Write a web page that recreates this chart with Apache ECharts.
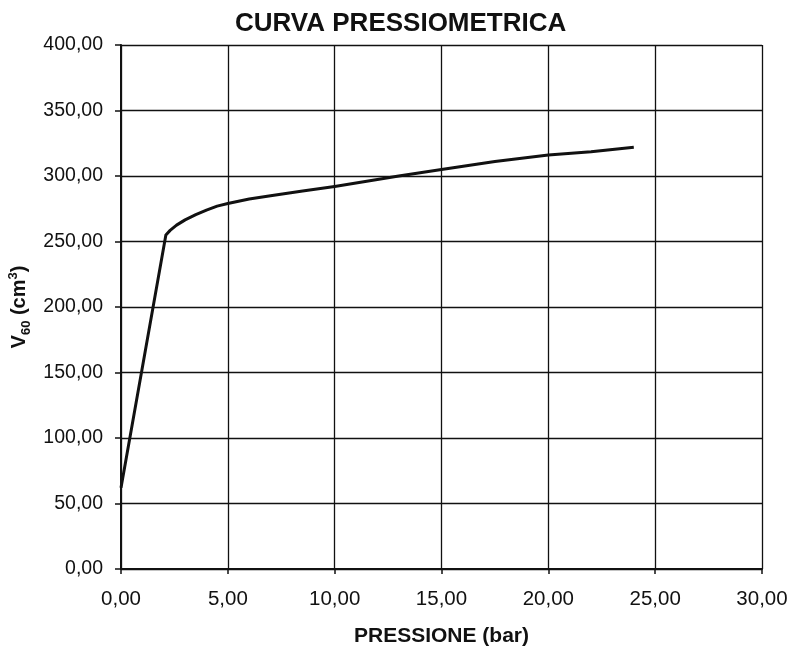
<!DOCTYPE html>
<html>
<head>
<meta charset="utf-8">
<script src="https://cdn.jsdelivr.net/npm/echarts@6/dist/echarts.min.js"></script>
<style>html,body{margin:0;padding:0;background:#fff;}#c{width:789px;height:649px;}</style>
</head>
<body>
<div id="c"></div>
<script>
const chartTitle = 'CURVA PRESSIOMETRICA';
const xAxisTitle = 'PRESSIONE (bar)';
const pressure = [0, 2.1, 2.3, 2.6, 3.0, 3.5, 4.0, 4.5, 5.0, 6.0, 7.0, 8.5, 10.0, 13.0, 15.0, 17.5, 20.0, 22.0, 24.0];
const volume   = [62, 255, 258.5, 262.5, 266.5, 270.5, 274, 277, 279, 282.5, 285, 288.5, 292, 300, 305, 311, 316, 318.5, 322];
const xTicks = [0, 5, 10, 15, 20, 25, 30];
const yTicks = [0, 50, 100, 150, 200, 250, 300, 350, 400];

const fmt = v => v.toFixed(2).replace('.', ',');
const font = 'Liberation Sans, Arial, sans-serif';
const ink = '#111';

const chart = echarts.init(document.getElementById('c'), null, {renderer: 'canvas'});
chart.setOption({
  backgroundColor: '#fff',
  animation: false,
  title: {
    text: chartTitle, left: 230, top: 6,
    textStyle: {fontFamily: font, fontSize: 26, fontWeight: 'bold', color: ink}
  },
  grid: {left: 121, right: 27, top: 45, bottom: 80, containLabel: false, outerBoundsMode: 'none'},
  xAxis: {
    type: 'value', min: xTicks[0], max: xTicks[xTicks.length - 1], interval: 5,
    name: xAxisTitle, nameLocation: 'middle', nameGap: 57,
    nameTextStyle: {fontFamily: font, fontSize: 21, fontWeight: 'bold', color: ink},
    axisLine: {show: true, onZero: false, lineStyle: {color: ink, width: 2}},
    axisTick: {show: true, length: 5, lineStyle: {color: ink, width: 1.5}},
    axisLabel: {fontFamily: font, fontSize: 20.5, color: ink, margin: 20, formatter: fmt},
    splitLine: {show: true, lineStyle: {color: ink, width: 1.3}}
  },
  yAxis: {
    type: 'value', min: yTicks[0], max: yTicks[yTicks.length - 1], interval: 50,
    name: '{v|V}{s|60}{v| (cm}{p|3}{v|)}', nameLocation: 'middle', nameGap: 88,
    nameTextStyle: {
      fontFamily: font, fontSize: 20, fontWeight: 'bold', color: ink,
      rich: {
        v: {fontFamily: font, fontSize: 20, fontWeight: 'bold', color: ink, lineHeight: 26, verticalAlign: 'middle'},
        s: {fontFamily: font, fontSize: 13, fontWeight: 'bold', color: ink, lineHeight: 13, verticalAlign: 'bottom'},
        p: {fontFamily: font, fontSize: 13, fontWeight: 'bold', color: ink, lineHeight: 13, verticalAlign: 'top'}
      }
    },
    axisLine: {show: true, onZero: false, lineStyle: {color: ink, width: 2}},
    axisTick: {show: true, length: 6, lineStyle: {color: ink, width: 1.5}},
    axisLabel: {fontFamily: font, fontSize: 19.5, color: ink, margin: 18, formatter: fmt},
    splitLine: {show: true, lineStyle: {color: ink, width: 1.3}}
  },
  series: [{
    type: 'line',
    data: pressure.map((p, i) => [p, volume[i]]),
    showSymbol: false,
    smooth: false,
    lineStyle: {color: ink, width: 3, join: 'round'},
    z: 5
  }]
});
</script>
</body>
</html>
